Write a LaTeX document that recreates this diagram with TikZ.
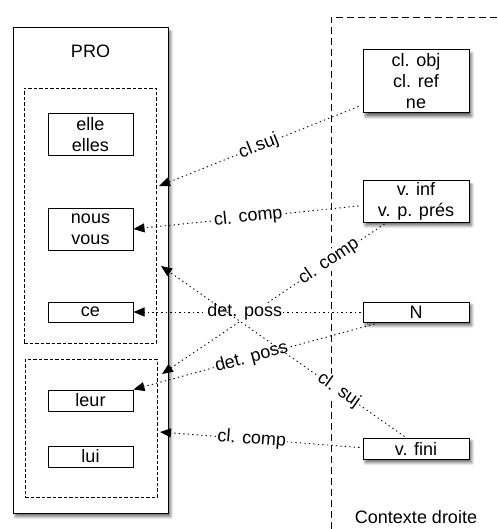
\documentclass[tikz,border=0pt]{standalone}
\usepackage{fontspec}
\setmainfont{Liberation Sans}
\usetikzlibrary{arrows.meta,calc,shadows.blur}
\begin{document}
\begin{tikzpicture}[x=1pt,y=-1pt,
 font=\fontsize{18}{21}\selectfont,
 box/.style={draw, line width=1pt, fill=white, inner sep=0pt, align=center},
 shbox/.style={box, blur shadow={shadow xshift=2.5pt, shadow yshift=-3.5pt, shadow blur steps=6, shadow blur radius=3pt, shadow opacity=60}},
 grp/.style={draw, line width=0.8pt, dash pattern=on 3.5pt off 2pt, inner sep=0pt},
 frame/.style={draw, line width=0.8pt, dash pattern=on 7pt off 4pt},
 link/.style={line width=0.9pt, dash pattern=on 1.3pt off 3.2pt, -{Triangle[length=11pt,width=9pt]}},
 lab/.style={fill=white, inner sep=1pt, sloped, pos=#1},
]
\useasboundingbox (0,0) rectangle (497,529);
% left column
\node[shbox, minimum width=155pt, minimum height=485pt] (pro) at (90.5,270.5) {};
\node (protxt) at (90.5,51) {PRO};
\node[grp, minimum width=132pt, minimum height=255pt] (d1) at (90,215.5) {};
\node[grp, minimum width=132pt, minimum height=138pt] (d2) at (91,428) {};
\node[box, minimum width=85pt, minimum height=42pt] (elle) at (90.5,135) {elle\\elles};
\node[box, minimum width=85pt, minimum height=42pt] (nous) at (90.5,229) {nous\\vous};
\node[box, minimum width=85pt, minimum height=20pt] (ce) at (90.5,312) {ce};
\node[box, minimum width=85pt, minimum height=21pt] (leur) at (90.5,400.5) {leur};
\node[box, minimum width=85pt, minimum height=21pt] (lui) at (90.5,456.5) {lui};
% right context frame
\coordinate (fb) at (331,529);
\coordinate (fc) at (331,17);
\coordinate (fr) at (497,17);
\draw[frame] (fb) -- (fc) -- (fr);
\node (ctx) at (416,517) {Contexte droite};
\node[shbox, minimum width=106pt, minimum height=63pt] (clobj) at (416,81.5) {cl. obj\\cl. ref\\ne};
\node[shbox, minimum width=106pt, minimum height=41pt] (vinf) at (416,201.5) {v. inf\\v. p. prés};
\node[shbox, minimum width=106pt, minimum height=20pt] (N) at (416,312) {N};
\node[shbox, minimum width=106pt, minimum height=21pt] (vfini) at (416,448.5) {v. fini};
% connector ends
\coordinate (s1) at ($(clobj.south west)+(-4,-7)$);
\coordinate (t1) at (159,186);
\coordinate (s2) at ($(vinf.west)+(-4,4.5)$);
\coordinate (s3) at ($(vinf.south west)+(22,1.5)$);
\coordinate (t3) at (162,374);
\coordinate (s4) at ($(N.west)+(-2,0)$);
\coordinate (s5) at ($(N.south west)+(12,1.5)$);
\coordinate (s6) at ($(vfini.north west)+(42,-1)$);
\coordinate (t6) at (161,266);
\coordinate (s7) at ($(vfini.west)+(-3,-1)$);
\coordinate (t7) at (160,432);
% connectors
\draw[link] (s1) -- node[lab=0.5]{cl.suj} (t1);
\draw[link] (s2) -- node[lab=0.49]{cl. comp} (nous.east);
\draw[link] (s3) -- node[lab=0.25]{cl. comp} (t3);
\draw[link] (s4) -- node[lab=0.51]{det. poss} (ce.east);
\draw[link] (s5) -- node[lab=0.51]{det. poss} (leur.north east);
\draw[link] (s6) -- node[lab=0.27]{cl. suj} (t6);
\draw[link] (s7) -- node[lab=0.54]{cl. comp} (t7);
\end{tikzpicture}
\end{document}
